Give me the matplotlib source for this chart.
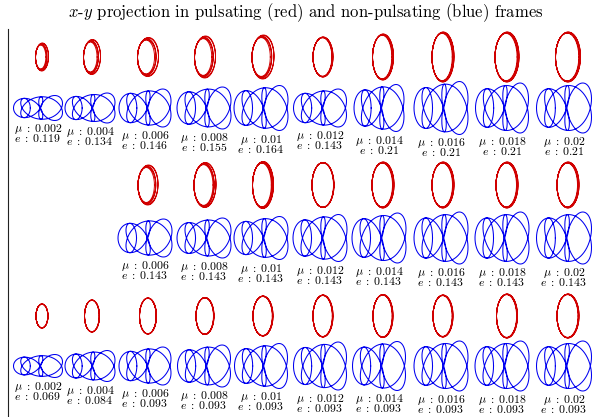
import numpy as np
import matplotlib.pyplot as plt

plt.rcParams['mathtext.fontset'] = 'cm'

W, H = 603, 417

# orbit parameters shown under each blue orbit (row 2 starts at column 3)
mu = [0.002, 0.004, 0.006, 0.008, 0.01, 0.012, 0.014, 0.016, 0.018, 0.02]
e_row1 = [0.119, 0.134, 0.146, 0.155, 0.164, 0.143, 0.21, 0.21, 0.21, 0.21]
e_row2 = [None, None, 0.143, 0.143, 0.143, 0.143, 0.143, 0.143, 0.143, 0.143]
e_row3 = [0.069, 0.084, 0.093, 0.093, 0.093, 0.093, 0.093, 0.093, 0.093, 0.093]
e_rows = [e_row1, e_row2, e_row3]

# extents of the orbits (pixels)
red_w = [[13, 17, 21, 21, 22, 20, 21, 22, 24, 25],
         [0, 0, 20, 22, 21, 22, 22, 22, 22, 22],
         [12, 15, 17, 18, 20, 20, 20, 20, 21, 22]]
red_h = [[28, 35, 39, 42, 44, 40, 46, 50, 50, 50],
         [0, 0, 40, 45, 47, 45, 46, 46, 46, 46],
         [24, 32, 36, 37, 40, 42, 43, 42, 44, 44]]
# how far apart the red rings drift
red_spread = [[0.35, 0.35, 0.32, 0.3, 0.28, 0.08, 0.12, 0.12, 0.12, 0.1],
              [0, 0, 0.3, 0.22, 0.16, 0.03, 0.1, 0.1, 0.1, 0.1],
              [0.02, 0.03, 0.03, 0.04, 0.05, 0.05, 0.06, 0.06, 0.06, 0.06]]
blue_w = [[49, 50, 52, 54, 54, 53, 50, 54, 53, 55],
          [0, 0, 54, 54, 54, 54, 54, 54, 54, 55],
          [49, 50, 52, 53, 53, 53, 53, 54, 54, 55]]
blue_h = [[25, 30, 38, 42, 45, 38, 47, 53, 50, 50],
          [0, 0, 38, 40, 43, 47, 50, 52, 52, 52],
          [23, 31, 38, 42, 45, 48, 49, 50, 50, 50]]

# layout (pixels)
red_cx = [42, 92, 148, 205, 263, 323, 383, 443, 507, 568]
blue_cx = [38, 90, 145, 204, 261, 320, 379, 441, 502, 564]
red_cy = [57, 185, 316]
blue_cy = [108, 238, 366]

RED = '#d00000'
BLUE = '#0000f0'


def norm(x, y):
    x = (x - (x.max() + x.min()) / 2) / (x.max() - x.min())
    y = (y - (y.max() + y.min()) / 2) / (y.max() - y.min())
    return x, y


def red_orbit(d):
    t = np.linspace(0, 10 * np.pi, 3000)
    u = 0.5 * (1 - np.cos(t / 5))
    x = np.cos(t) + d * u * (1 + np.cos(t)) * 0.8
    y = np.sin(t) * (1 + 0.5 * d * u) + 0.15 * d * u * np.cos(t)
    return norm(x, y)


def blue_orbit():
    t = np.linspace(0, 10 * np.pi, 4000)
    s = 1 / (1 + 0.14 * np.cos(t / 2.5))
    x = s * (12 + np.cos(t))
    y = s * 1.3 * np.sin(t)
    return norm(x, y)


def cell_axes(cx, cy, w, h):
    ax = fig.add_axes([(cx - w / 2) / W, 1 - (cy + h / 2) / H, w / W, h / H])
    ax.set_xlim(-0.5, 0.5)
    ax.set_ylim(-0.5, 0.5)
    ax.axis('off')
    return ax


fig = plt.figure(figsize=(W / 100, H / 100), dpi=100)

frame = fig.add_axes([8 / W, 0, 1 - 8 / W, 1 - 29 / H])
for side in ['top', 'right', 'bottom']:
    frame.spines[side].set_visible(False)
frame.spines['left'].set_color('#222222')
frame.set_xticks([])
frame.set_yticks([])

fig.text(306 / W, 1 - 13 / H,
         r'$x$-$y$ projection in pulsating (red) and non-pulsating (blue) frames',
         family='cmr10', fontsize=12, ha='center', va='center')

bx, by = blue_orbit()
for r in range(3):
    for c in range(10):
        e = e_rows[r][c]
        if e is None:
            continue
        ax = cell_axes(red_cx[c], red_cy[r], red_w[r][c], red_h[r][c])
        x, y = red_orbit(red_spread[r][c])
        ax.plot(x, y, color=RED, lw=0.7, clip_on=False)

        ax = cell_axes(blue_cx[c], blue_cy[r], blue_w[r][c], blue_h[r][c])
        ax.plot(bx, by, color=BLUE, lw=0.75, clip_on=False)

        bottom = blue_cy[r] + blue_h[r][c] / 2
        label = r'$\mu\;:\;%s$' % mu[c] + '\n' + r'$e\;:\;%s$' % e
        fig.text(blue_cx[c] / W, 1 - (bottom + 13.5) / H, label,
                 fontsize=8.5, ha='center', va='center', linespacing=0.6,
                 multialignment='center')

fig.savefig('out.png', dpi=100)
